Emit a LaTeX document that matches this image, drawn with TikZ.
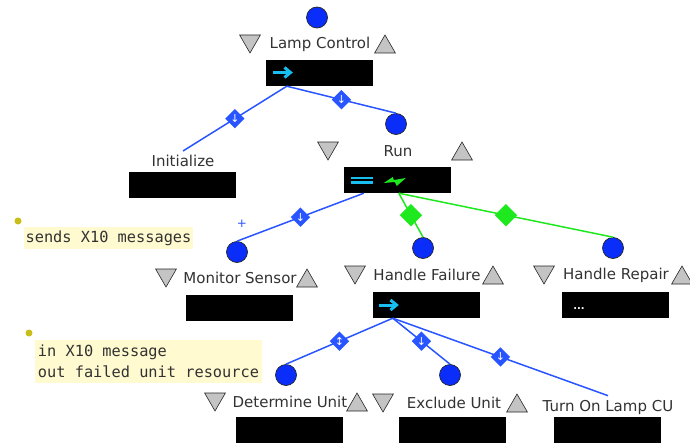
\documentclass[tikz,border=0pt]{standalone}
\usepackage{fontspec}
\setmainfont{DejaVu Sans}              % Police des étiquettes
\setmonofont{DejaVu Sans Mono}         % Police des notes
\usepackage{pgf,tikz}
\usetikzlibrary{shapes,               % d'autres formes (losanges, triangles)
           arrows.meta,               % pointes de flèches
           positioning,
           calc}

\definecolor{bleuRond}{RGB}{10,45,250}
\definecolor{bleuLien}{RGB}{40,85,255}
\definecolor{vert}{RGB}{30,232,30}
\definecolor{cyanIcone}{RGB}{25,190,240}
\definecolor{gris}{RGB}{50,50,50}
\definecolor{grisTri}{RGB}{196,196,196}
\definecolor{jaunePale}{RGB}{255,250,208}
\definecolor{olive}{RGB}{200,190,25}

\tikzset{
  rond/.style={circle, draw=black!85, fill=bleuRond, minimum size=21pt, inner sep=0pt, line width=0.7pt},
  titre/.style={text=gris, font=\fontsize{15}{18}\selectfont, inner xsep=0pt, inner ysep=4pt},
  trbas/.style={regular polygon, regular polygon sides=3, shape border rotate=180, draw=black!85, fill=grisTri, minimum size=24pt, inner sep=0pt, line width=0.6pt, yshift=3pt},
  trhaut/.style={regular polygon, regular polygon sides=3, draw=black!85, fill=grisTri, minimum size=24pt, inner sep=0pt, line width=0.6pt, yshift=-3pt},
  boite/.style={fill=black, minimum width=107pt, minimum height=26pt, inner sep=0pt},
  icone/.style={draw=cyanIcone, line width=3pt},
  lienB/.style={draw=bleuLien, line width=1.5pt},
  lienV/.style={draw=vert, line width=1.5pt},
  losB/.style={diamond, fill=bleuLien, minimum width=20pt, minimum height=20pt, inner sep=0pt, text=white, font=\fontsize{11}{11}\selectfont},
  losV/.style={diamond, fill=vert, minimum width=23pt, minimum height=23pt, inner sep=0pt},
  note/.style={fill=jaunePale, text=gris, font=\ttfamily\fontsize{15.3}{21}\selectfont, align=left, inner sep=1.5pt},
  puce/.style={circle, fill=olive, minimum size=7pt, inner sep=0pt}
}

\begin{document}
\begin{tikzpicture}[x=1pt,y=-1pt]
\useasboundingbox(0,0)rectangle(690,444);

% Lamp Control
\node[rond](A0)at(317,17.5){};
\node[titre](A)at(320,44){Lamp Control};
\node[trbas](A1)at(250,44){};
\node[trhaut](A2)at(385,44){};
\node[boite](A3)at(319.5,73){};
\draw[icone,-{Straight Barb[length=6pt,width=10pt]}]([xshift=7pt,yshift=0.5pt]A3.west)--++(20,0);

% Initialize
\node[titre](B)at(183,161){Initialize};
\node[boite](B3)at(182.5,184.5){};

% Run
\node[rond](C0)at(396,124){};
\node[titre](C)at(398,151){Run};
\node[trbas](C1)at(328,151){};
\node[trhaut](C2)at(462,151){};
\node[boite](C3)at(397.5,180){};
\draw[icone,line width=2.5pt]([xshift=7pt,yshift=2pt]C3.west)--++(22,0) ([xshift=7pt,yshift=-2.5pt]C3.west)--++(22,0);
\fill[vert,shift={(C3.west)}](40,3)--(49,-3)--(50,0)--(62,-2)--(53,6)--(51,2)--cycle;

% Monitor Sensor
\node[rond](D0)at(237,252){};
\node[titre](D)at(240,278){Monitor Sensor};
\node[trbas](D1)at(166,278){};
\node[trhaut](D2)at(307,278){};
\node[boite](D3)at(239.5,307.5){};
\node[text=bleuLien,font=\fontsize{12}{12}\selectfont](D4)at(242,224){+};

% Handle Failure
\node[rond](E0)at(423,248){};
\node[titre](E)at(427,275){Handle Failure};
\node[trbas](E1)at(355,275){};
\node[trhaut](E2)at(493,275){};
\node[boite](E3)at(426.5,305){};
\draw[icone,-{Straight Barb[length=6pt,width=10pt]}]([xshift=6pt]E3.west)--++(20,0);

% Handle Repair
\node[rond](F0)at(613,248){};
\node[titre](F)at(616,275){Handle Repair};
\node[trbas](F1)at(544,275){};
\node[trhaut](F2)at(682,275){};
\node[boite](F3)at(615.5,305){};
\node[text=white,font=\bfseries\fontsize{10}{10}\selectfont](F4)at(579,309){...};

% Determine Unit
\node[rond](G0)at(286,375){};
\node[titre](G)at(290,402){Determine Unit};
\node[trbas](G1)at(215,402){};
\node[trhaut](G2)at(357,402){};
\node[boite](G3)at(289.5,430){};

% Exclude Unit
\node[rond](H0)at(450,375){};
\node[titre](H)at(454,403){Exclude Unit};
\node[trbas](H1)at(383,403){};
\node[trhaut](H2)at(517,403){};
\node[boite](H3)at(452.5,430){};

% Turn On Lamp CU
\node[titre](I)at(608,407){Turn On Lamp CU};
\node[boite](I3)at(607.5,430){};

% liens
\draw[lienB]([xshift=21pt]A3.south west)--node[losB]{↓}(B.north);
\draw[lienB]([xshift=21pt]A3.south west)--node[losB]{↓}(C0.north);
\draw[lienB]([xshift=20pt]C3.south west)--node[losB]{↓}(D0.north);
\draw[lienV]([xshift=55pt]C3.south west)--node[losV]{}(E0.north);
\draw[lienV]([xshift=55pt]C3.south west)--node[losV]{}(F0.north);
\draw[lienB]([xshift=20pt]E3.south west)--node[losB]{↕}(G0.north);
\draw[lienB]([xshift=20pt]E3.south west)--node[losB]{↓}(H0.north);
\draw[lienB]([xshift=20pt]E3.south west)--node[losB]{↓}(I.north);

% notes
\node[puce](N0)at(18,221){};
\node[note,minimum width=169pt,minimum height=22pt](N)at(108.5,238){sends X10 messages};
\node[puce](M0)at(29,333){};
\node[note,minimum width=227pt,minimum height=43pt](M)at(148.5,361.5){in X10 message\\out failed unit resource};
\end{tikzpicture}
\end{document}
